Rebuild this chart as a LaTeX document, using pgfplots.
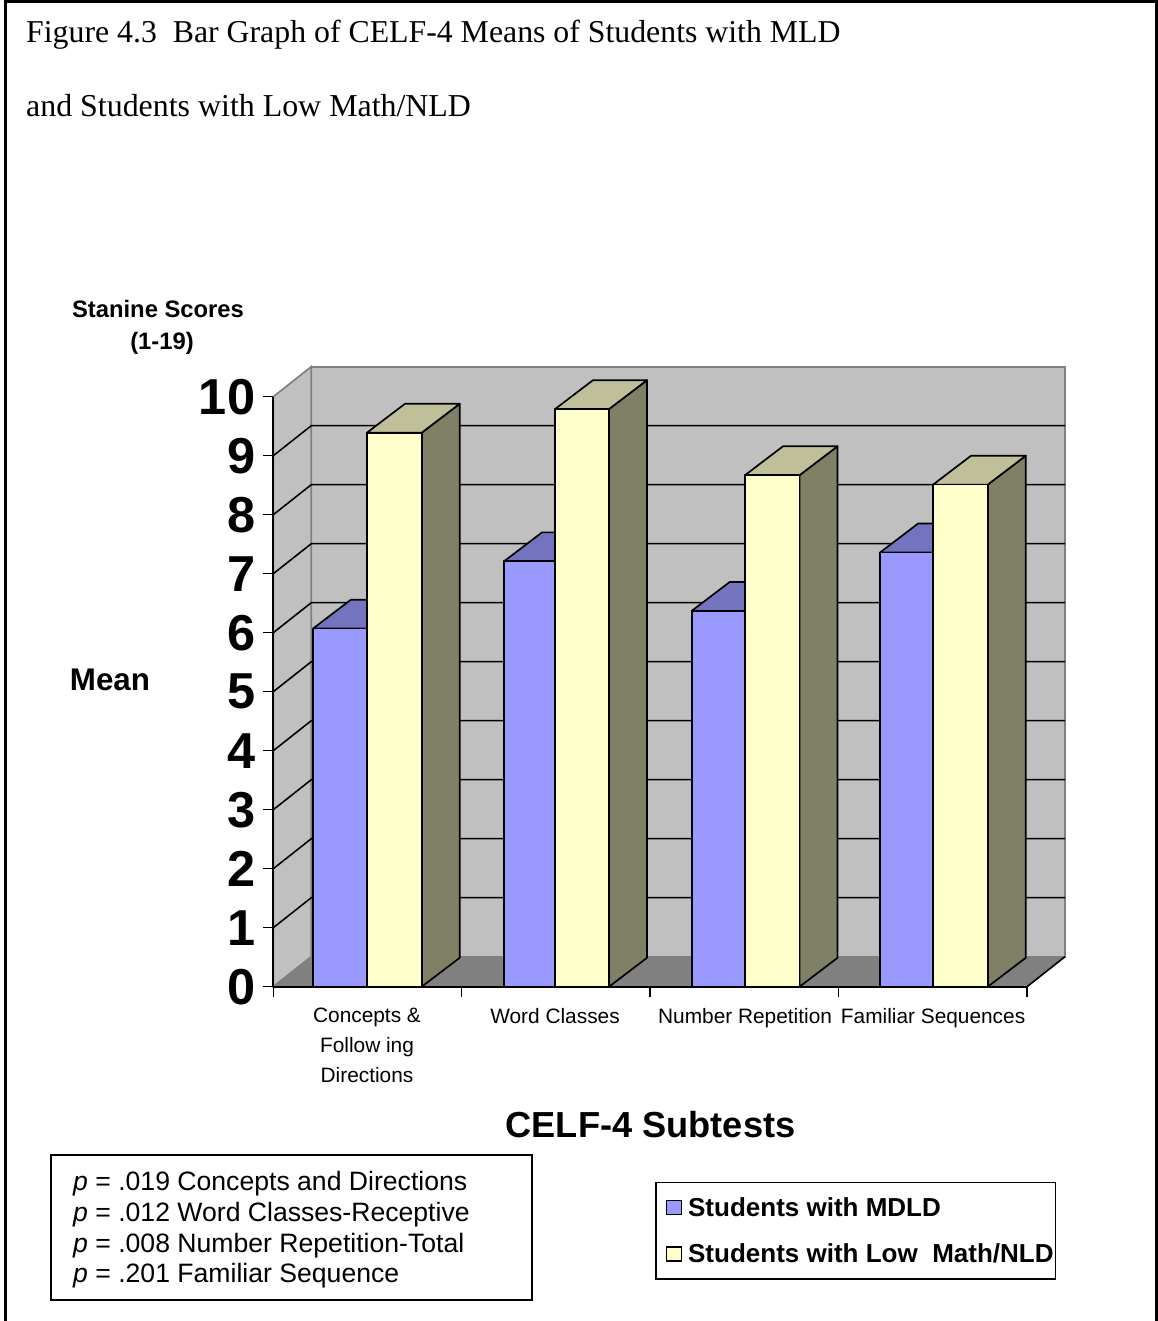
\documentclass[border=0pt]{standalone}
\usepackage{pgfplots}
\pgfplotsset{compat=1.18}
\usepackage{fontspec}
\setmainfont{Liberation Sans}
\newfontfamily\seriffont{Liberation Serif}
\definecolor{wall}{HTML}{C0C0C0}
\definecolor{wallline}{HTML}{808080}
\definecolor{barblue}{HTML}{9999FF}
\definecolor{bluetop}{HTML}{7373BF}
\definecolor{blueside}{HTML}{6060A0}
\definecolor{baryellow}{HTML}{FFFFCC}
\definecolor{yellowtop}{HTML}{BFBF99}
\definecolor{yellowside}{HTML}{808066}

% one 3-D bar: left edge, right edge, value, front, top, side colour
\newcommand\threedbar[6]{%
  \pgfmathsetmacro\xa{#1+0.2016}%
  \pgfmathsetmacro\xb{#2+0.2016}%
  \pgfmathsetmacro\vb{#3+0.49}%
  \edef\temp{%
    \noexpand\addplot[face,fill=#6] coordinates {(#2,0) (\xb,0.49) (\xb,\vb) (#2,#3)} --cycle;
    \noexpand\addplot[face,fill=#5] coordinates {(#1,#3) (\xa,\vb) (\xb,\vb) (#2,#3)} --cycle;
    \noexpand\addplot[face,fill=#4] coordinates {(#1,0) (#1,#3) (#2,#3) (#2,0)} --cycle;
  }\temp}

\begin{document}
\begin{tikzpicture}[x=1pt,y=1pt]
\useasboundingbox (0,0) rectangle (1157,1321);
\fill[white] (0,0) rectangle (1157,1321);
\draw[black,line width=3pt] (5,0) -- (5,1319) -- (1156,1319) -- (1156,0);

\node[anchor=base west,inner sep=0pt,font=\seriffont\fontsize{31.8}{36}\selectfont] at (26,1278)
  {Figure 4.3\ \ Bar Graph of CELF-4 Means of Students with MLD};
\node[anchor=base west,inner sep=0pt,font=\seriffont\fontsize{31.9}{36}\selectfont] at (26,1204)
  {and Students with Low Math/NLD};

\begin{axis}[
  at={(273.3pt,334.3pt)}, anchor=south west,
  scale only axis, width=753.7pt, height=590pt,
  xmin=0, xmax=4, ymin=0, ymax=10,
  clip=false, axis on top,
  axis lines=left,
  axis line style={-,black,line width=1.9pt},
  every tick/.style={black,line width=1.5pt},
  tick align=outside, major tick length=10pt,
  face/.style={forget plot,draw=black,line width=1.7pt,line join=round},
  xtick={0,1,2,3,4}, xticklabels={,,,,},
  extra x ticks={0.4973,1.4952,2.5037,3.5016},
  extra x tick labels={{Concepts \&\\Follow ing\\Directions},{Word Classes},{Number Repetition},{Familiar Sequences}},
  extra x tick style={major tick length=0pt},
  xticklabel style={align=center,anchor=north,yshift=-18pt,font=\fontsize{20.85}{30}\selectfont},
  ytick={0,...,10},
  /pgf/number format/assume math mode=true,
  yticklabel style={font=\fontsize{50.5}{51}\selectfont\bfseries,xshift=-8pt,inner sep=0pt},
  xlabel={CELF-4 Subtests},
  xlabel style={at={(axis description cs:0.5005,-0.2344)},anchor=center,font=\fontsize{36.2}{40}\selectfont\bfseries},
  ylabel={Mean},
  ylabel style={at={(axis description cs:-0.2167,0.5198)},anchor=center,rotate=-90,font=\fontsize{31.3}{36}\selectfont\bfseries},
  legend style={at={(axis description cs:0.5068,-0.3305)},anchor=north west,
    draw=black,line width=1.7pt,inner xsep=0pt,inner ysep=13pt,
    font=\fontsize{26}{30}\selectfont\bfseries,
    cells={anchor=west},row sep=22pt},
  legend image code/.code={\path[draw=none,fill=none] (0pt,0pt) rectangle (30pt,0pt);\draw[#1,draw=black,line width=1.2pt] (10pt,-7pt) rectangle (25pt,7pt);},
]
% walls and floor
\addplot[forget plot,fill=wall,draw=wallline,line width=1.7pt] coordinates {(0.2016,0.5085) (4.2016,0.5085) (4.2016,10.5085) (0.2016,10.5085)} --cycle;
\addplot[forget plot,fill=wall,draw=wallline,line width=1.7pt] coordinates {(0,0) (0.2016,0.5085) (0.2016,10.5085) (0,10)} --cycle;
\addplot[forget plot,fill=wallline,draw=wallline,line width=1.2pt] coordinates {(0,0) (0.2016,0.5085) (4.2016,0.5085) (4,0)} --cycle;
\addplot[forget plot,black,line width=1.6pt] coordinates {(4,0) (4.2016,0.5085)};
% grid lines
\addplot[forget plot,black,line width=1.6pt] coordinates {(0,1) (0.2016,1.5085) (4.2016,1.5085)};
\addplot[forget plot,black,line width=1.6pt] coordinates {(0,2) (0.2016,2.5085) (4.2016,2.5085)};
\addplot[forget plot,black,line width=1.6pt] coordinates {(0,3) (0.2016,3.5085) (4.2016,3.5085)};
\addplot[forget plot,black,line width=1.6pt] coordinates {(0,4) (0.2016,4.5085) (4.2016,4.5085)};
\addplot[forget plot,black,line width=1.6pt] coordinates {(0,5) (0.2016,5.5085) (4.2016,5.5085)};
\addplot[forget plot,black,line width=1.6pt] coordinates {(0,6) (0.2016,6.5085) (4.2016,6.5085)};
\addplot[forget plot,black,line width=1.6pt] coordinates {(0,7) (0.2016,7.5085) (4.2016,7.5085)};
\addplot[forget plot,black,line width=1.6pt] coordinates {(0,8) (0.2016,8.5085) (4.2016,8.5085)};
\addplot[forget plot,black,line width=1.6pt] coordinates {(0,9) (0.2016,9.5085) (4.2016,9.5085)};
% Students with MDLD
\threedbar{0.2107}{0.4973}{6.07}{barblue}{bluetop}{blueside}
\threedbar{1.2245}{1.4952}{7.21}{barblue}{bluetop}{blueside}
\threedbar{2.2208}{2.5037}{6.37}{barblue}{bluetop}{blueside}
\threedbar{3.2203}{3.5016}{7.36}{barblue}{bluetop}{blueside}
% Students with Low Math/NLD
\threedbar{0.4973}{0.7877}{9.39}{baryellow}{yellowtop}{yellowside}
\threedbar{1.4952}{1.7818}{9.79}{baryellow}{yellowtop}{yellowside}
\threedbar{2.5037}{2.7930}{8.67}{baryellow}{yellowtop}{yellowside}
\threedbar{3.5016}{3.7919}{8.51}{baryellow}{yellowtop}{yellowside}
\addlegendimage{fill=barblue}
\addlegendentry{Students with MDLD}
\addlegendimage{fill=baryellow}
\addlegendentry{Students with Low\ \ Math/NLD}
\end{axis}

\node[align=center,font=\fontsize{23.8}{32}\selectfont\bfseries] at (158,994) {Stanine Scores\\\hspace{8pt}(1-19)};
\draw[black,line width=1.7pt] (51,21) rectangle (532,166);
\node[anchor=north west,align=left,inner sep=0pt,font=\fontsize{26.6}{30.8}\selectfont] at (73,150)
  {\textit{p} = .019 Concepts and Directions\\
   \textit{p} = .012 Word Classes-Receptive\\
   \textit{p} = .008 Number Repetition-Total\\
   \textit{p} = .201 Familiar Sequence};
\end{tikzpicture}
\end{document}
